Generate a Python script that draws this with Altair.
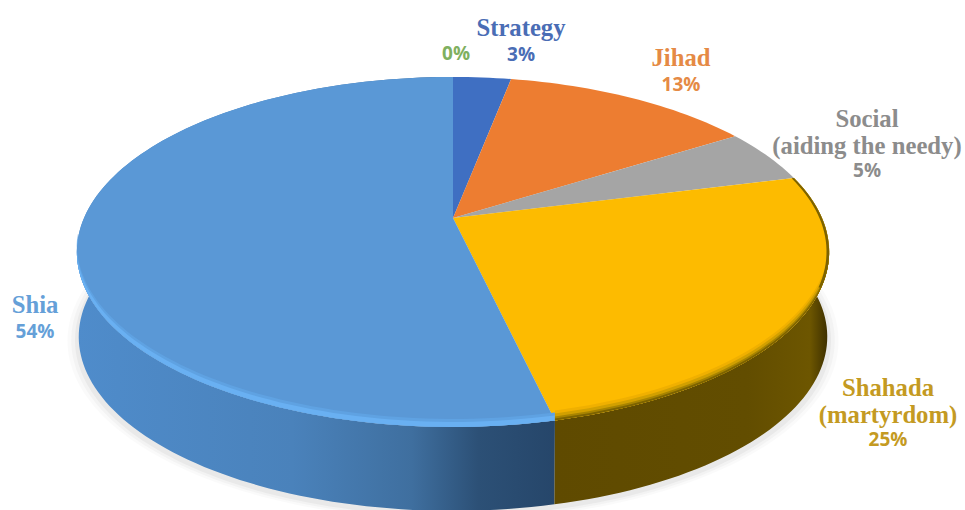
import math
import altair as alt
import pandas as pd

# Share of each theme, clockwise from twelve o'clock
themes = ["Other", "Strategy", "Jihad", "Social", "Shahada", "Shia"]
shares = [0, 3, 13, 5, 25, 54]
top_colors = ["#70ad47", "#3f6fc2", "#ed7d31", "#a5a5a5", "#fdbb00", "#5a98d6"]

# Text blocks: (lines, percent, colour, centre x, first baseline)
name_lines = [
    (["Strategy"], "3%", "#4a6db5", 521, 36),
    (["Jihad"], "13%", "#e58a45", 681, 66),
    (["Social", "(aiding the needy)"], "5%", "#8c8c8c", 867, 127),
    (["Shahada", "(martyrdom)"], "25%", "#c49a22", 888, 396),
    (["Shia"], "54%", "#65a0d8", 35, 313),
]
zero_label = ("0%", "#7fb060", 456, 60)

W, H = 965, 510


def project(angle, lift=0.0, scale=1.0):
    """Perspective view of a point on the pie rim; angle in degrees clockwise from the top."""
    near = max(0.0, -math.cos(math.radians(angle)))
    a = math.radians(angle + 1.5 * near)
    u, v = math.sin(a), -math.cos(a)
    d = 1 - 0.194 * v
    return (453 + 369 * scale * u / d, 218 + lift + 168.4 * scale * v / d)


def arc(start, end, lift=0.0, scale=1.0, shift=0.0):
    n = max(2, int(abs(end - start) / 1.5) + 1)
    pts = []
    for i in range(n + 1):
        x, y = project(start + (end - start) * i / n, lift, scale)
        pts.append((x, y + shift))
    return pts


def shape(points, fill, opacity=1.0):
    df = pd.DataFrame(points, columns=["x", "y"])
    df["i"] = range(len(df))
    return (
        alt.Chart(df)
        .mark_line(filled=True, fill=fill, stroke=None, opacity=opacity, clip=True)
        .encode(
            x=alt.X("x:Q", scale=alt.Scale(domain=[0, W]), axis=None),
            y=alt.Y("y:Q", scale=alt.Scale(domain=[H, 0]), axis=None),
            order="i:Q",
        )
    )


def gradient(stops):
    return alt.Gradient(
        gradient="linear",
        x1=0, x2=1, y1=0, y2=0,
        stops=[alt.GradientStop(offset=o, color=c) for o, c in stops],
    )


# Cumulative slice boundaries in degrees
edges = [0.0]
for s in shares:
    edges.append(edges[-1] + s * 3.6)
spans = dict(zip(themes, zip(edges[:-1], edges[1:])))

DEPTH, BASE = 85, 0.995
layers = []

# Soft contact shadow under the disc
for grow, alpha in [(1.03, 0.04), (1.02, 0.05), (1.01, 0.07)]:
    layers.append(shape(arc(0, 360, DEPTH + 3, BASE * grow), "#777777", alpha))

# Side walls, darkening towards the Shahada slice
s0, s1 = spans["Shia"]
layers.append(
    shape(
        arc(s0, s1) + arc(s1, s0, DEPTH, BASE),
        gradient([(0, "#4f8ccb"), (0.45, "#4a82bb"), (0.7, "#3f6f9f"),
                  (0.84, "#2c5076"), (1, "#26466a")]),
    )
)
g0, g1 = spans["Shahada"]
layers.append(
    shape(
        arc(g0, g1) + arc(g1, g0, DEPTH, BASE),
        gradient([(0, "#5f4a00"), (0.7, "#624d00"), (0.93, "#6d5600"), (1, "#3a2d00")]),
    )
)

# Top faces
for name, color in zip(themes, top_colors):
    a0, a1 = spans[name]
    if a1 > a0:
        layers.append(shape([(453, 218)] + arc(a0, a1), color))

# Bevel along the front rim
for name, start, end, bands in [
    ("Shia", None, 262, [(8, "#5fa2e2"), (5, "#69b0f2")]),
    ("Shahada", 100, None, [(10, "#f0b000"), (7, "#d2a000"), (4, "#a88400"), (2, "#7d6300")]),
]:
    a0, a1 = spans[name]
    a0 = a0 if start is None else start
    a1 = a1 if end is None else end
    for width, color in bands:
        layers.append(shape(arc(a0, a1) + arc(a1, a0, 0, 1, -width), color))

# Thin dark edge on the far right of the gold slice
layers.append(shape(arc(g0, 112) + arc(112, g0, 0, 0.993), "#7d6300"))

# Labels
rows = []
for lines, pct, color, cx, y in name_lines:
    for k, line in enumerate(lines):
        rows.append({"t": line, "x": cx, "y": y + k * 27, "c": color, "kind": "name"})
    pct_y = y + 25 if len(lines) == 1 else y + 50
    rows.append({"t": pct, "x": cx, "y": pct_y, "c": color, "kind": "pct"})
rows.append({"t": zero_label[0], "x": zero_label[2], "y": zero_label[3], "c": zero_label[1], "kind": "pct"})
labels = pd.DataFrame(rows)


def text_layer(kind, font, size):
    return (
        alt.Chart(labels[labels.kind == kind])
        .mark_text(font=font, fontSize=size, fontWeight="bold", align="center", baseline="alphabetic")
        .encode(
            x=alt.X("x:Q", scale=alt.Scale(domain=[0, W]), axis=None),
            y=alt.Y("y:Q", scale=alt.Scale(domain=[H, 0]), axis=None),
            text="t:N",
            color=alt.Color("c:N", scale=None),
        )
    )


layers.append(text_layer("name", "Liberation Serif", 24.7))
layers.append(text_layer("pct", "Open Sans", 19))

chart = (
    alt.layer(*layers)
    .properties(width=W, height=H, padding=0, autosize=alt.AutoSizeParams(type="none"), background="white")
    .configure_view(stroke=None)
)
chart.save("out.html", embed_options={"renderer": "svg", "actions": False})
